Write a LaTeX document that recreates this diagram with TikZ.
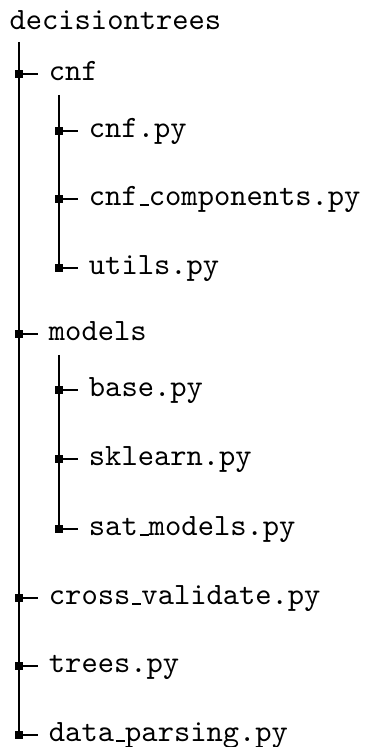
\documentclass[tikz,border=0pt]{standalone}
\usepackage{tikz}
\newcommand{\undsc}{\leavevmode\kern.06em\vbox{\hrule width.3em height.45pt}}

\begin{document}
\begin{tikzpicture}[x=0.3226pt,y=-0.3226pt]
  \useasboundingbox (0,0) rectangle (366,747);
  \node[font=\ttfamily,anchor=base west,inner sep=0pt] (root) at (9,29.5) {decisiontrees};
  \coordinate (top)    at (19,42);
  \coordinate (cnftop) at (59,95);
  \coordinate (modtop) at (59,355);
  \begin{scope}[every node/.style={rectangle,fill=black,inner sep=0pt,minimum size=2.4pt}]
    \node (cnfdot)     at (19,74)  {};
    \node (cnfpydot)   at (59,131) {};
    \node (cnfcompdot) at (59,199) {};
    \node (utilsdot)   at (59,268) {};
    \node (modelsdot)  at (19,334) {};
    \node (basedot)    at (59,390) {};
    \node (sklearndot) at (59,459) {};
    \node (satdot)     at (59,529) {};
    \node (crossdot)   at (19,598) {};
    \node (treesdot)   at (19,666) {};
    \node (datadot)    at (19,735) {};
  \end{scope}
  \begin{scope}[every node/.style={anchor=west,font=\ttfamily,text height=0.65em,text depth=0.22em}]
    \node (cnf)     at (38,74)  {cnf};
    \node (cnfpy)   at (78,131) {cnf.py};
    \node (cnfcomp) at (78,199) {cnf\undsc components.py};
    \node (utils)   at (78,268) {utils.py};
    \node (models)  at (38,334) {models};
    \node (base)    at (78,390) {base.py};
    \node (sklearn) at (78,459) {sklearn.py};
    \node (sat)     at (78,529) {sat\undsc models.py};
    \node (cross)   at (38,598) {cross\undsc validate.py};
    \node (trees)   at (38,666) {trees.py};
    \node (data)    at (38,735) {data\undsc parsing.py};
  \end{scope}
  \begin{scope}[every edge/.style={draw=black,line width=0.5pt}]
    \path (top) edge (datadot);
    \path (cnftop) edge (utilsdot);
    \path (modtop) edge (satdot);
    \path (cnfdot) edge (cnf);
    \path (cnfpydot) edge (cnfpy);
    \path (cnfcompdot) edge (cnfcomp);
    \path (utilsdot) edge (utils);
    \path (modelsdot) edge (models);
    \path (basedot) edge (base);
    \path (sklearndot) edge (sklearn);
    \path (satdot) edge (sat);
    \path (crossdot) edge (cross);
    \path (treesdot) edge (trees);
    \path (datadot) edge (data);
  \end{scope}
\end{tikzpicture}
\end{document}
